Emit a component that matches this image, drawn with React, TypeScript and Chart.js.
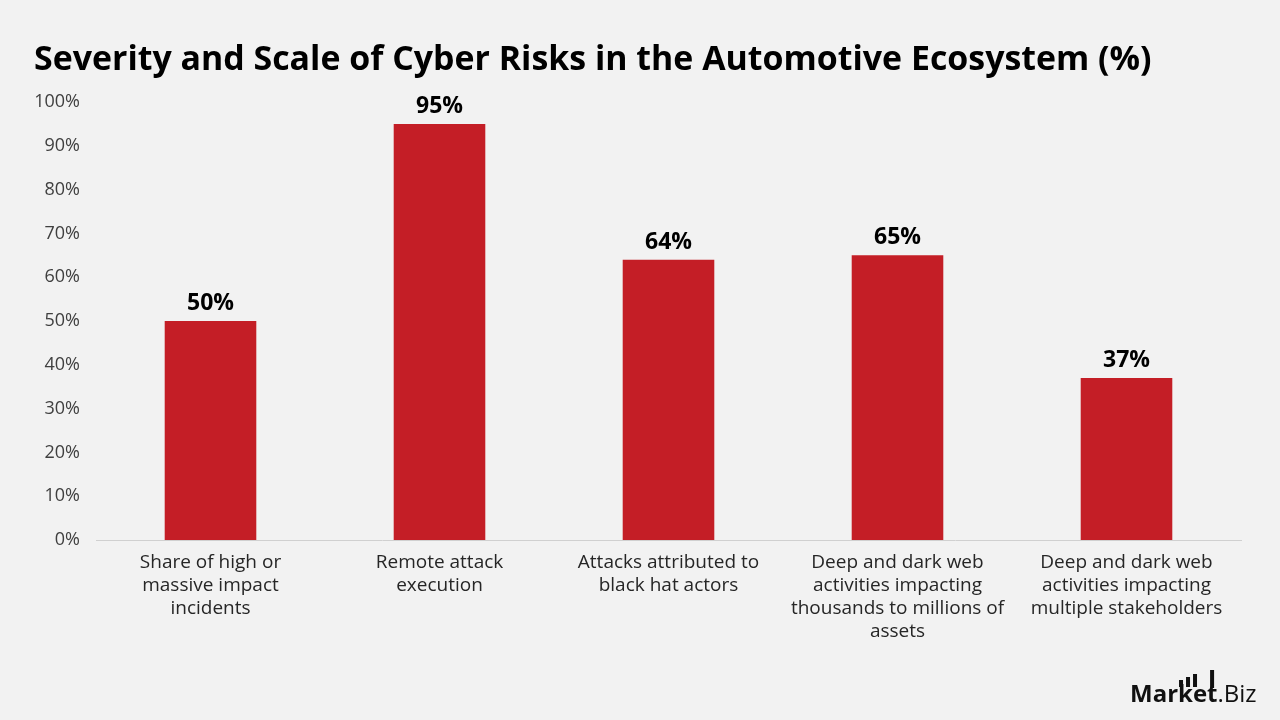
import React, { useEffect, useRef } from "react";
import { Chart, registerables } from "chart.js";

Chart.register(...registerables);

const categories: string[][] = [
  ["Share of high or", "massive impact", "incidents"],
  ["Remote attack", "execution"],
  ["Attacks attributed to", "black hat actors"],
  ["Deep and dark web", "activities impacting", "thousands to millions of", "assets"],
  ["Deep and dark web", "activities impacting", "multiple stakeholders"],
];
const values: number[] = [50, 95, 64, 65, 37];
const yTicks: number[] = [0, 10, 20, 30, 40, 50, 60, 70, 80, 90, 100];
const title = "Severity and Scale of Cyber Risks in the Automotive Ecosystem (%)";

const FONT = "'Open Sans', 'Noto Sans', sans-serif";
const BAR = "#C41E26";

const overlay = {
  id: "overlay",
  afterDraw(chart: any) {
    const ctx = chart.ctx as CanvasRenderingContext2D;
    ctx.save();
    // title fitted to reference width
    let size = 30;
    ctx.font = `bold ${size}px ${FONT}`;
    const w = ctx.measureText(title).width;
    size = Math.min(34, (size * 1118) / w);
    ctx.font = `bold ${size}px ${FONT}`;
    ctx.fillStyle = "#000";
    ctx.textBaseline = "middle";
    ctx.textAlign = "left";
    ctx.fillText(title, 34, 60);

    // value labels
    const meta = chart.getDatasetMeta(0);
    ctx.font = `bold 23px ${FONT}`;
    ctx.textAlign = "center";
    ctx.textBaseline = "bottom";
    meta.data.forEach((bar: any, i: number) => {
      ctx.fillText(values[i] + "%", bar.x, bar.y - 6);
    });

    // watermark
    ctx.textAlign = "left";
    ctx.textBaseline = "alphabetic";
    ctx.fillStyle = "#111";
    ctx.font = `bold 24px ${FONT}`;
    const mw = ctx.measureText("Market").width;
    const kx = 1130 + ctx.measureText("Mar").width;
    const tx = 1130 + ctx.measureText("Marke").width;
    ctx.fillText("Market", 1130, 702);
    ctx.font = `24px ${FONT}`;
    ctx.fillText(".Biz", 1130 + mw, 702);
    const hs = [7, 10, 13];
    hs.forEach((h, i) => {
      ctx.fillRect(kx + 1 + i * 7, 687 - h, 4, h);
    });
    ctx.fillRect(tx + 3, 670, 4, 18);
    ctx.restore();
  },
};

export default function App() {
  const ref = useRef<HTMLCanvasElement | null>(null);
  useEffect(() => {
    document.body.style.margin = "0";
    document.body.style.background = "#F2F2F2";
    const chart = new Chart(ref.current as HTMLCanvasElement, {
      type: "bar",
      data: {
        labels: categories as any,
        datasets: [
          {
            data: values,
            backgroundColor: BAR,
            barPercentage: 0.4,
            categoryPercentage: 1,
          },
        ],
      },
      options: {
        animation: false,
        responsive: false,
        maintainAspectRatio: false,
        layout: { padding: { top: 102, right: 39, left: 0, bottom: 0 } },
        plugins: {
          legend: { display: false },
          title: { display: false },
          tooltip: { enabled: false },
        },
        scales: {
          x: {
            grid: { display: false, drawTicks: false },
            border: { display: true, color: "#D0D0D0", width: 1 },
            ticks: {
              color: "#262626",
              font: { family: FONT, size: 19, lineHeight: 1.21 },
              padding: 11,
              maxRotation: 0,
              autoSkip: false,
            },
            afterFit(scale: any) {
              scale.height = 180;
            },
          },
          y: {
            min: 0,
            max: 100,
            grid: { display: false, drawTicks: false },
            border: { display: false },
            afterBuildTicks(scale: any) {
              scale.ticks = yTicks.map((v) => ({ value: v }));
            },
            ticks: {
              color: "#404040",
              font: { family: FONT, size: 18 },
              padding: 16,
              callback: (v: any) => v + "%",
            },
            afterFit(scale: any) {
              scale.width = 96;
            },
          },
        },
      },
      plugins: [overlay],
    });
    return () => chart.destroy();
  }, []);
  return (
    <div style={{ position: "fixed", left: 0, top: 0, width: 1280, height: 720, background: "#F2F2F2" }}>
      <canvas ref={ref} width={1280} height={720} style={{ width: 1280, height: 720, display: "block" }} />
    </div>
  );
}
